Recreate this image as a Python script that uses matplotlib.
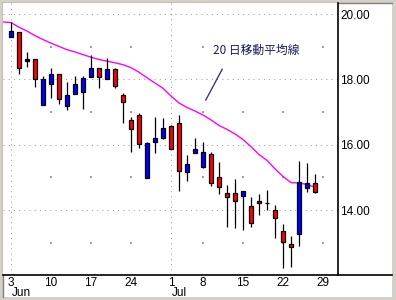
import matplotlib
matplotlib.use("Agg")
import matplotlib.pyplot as plt
import matplotlib.transforms as mtransforms
from matplotlib.lines import Line2D
from matplotlib.patches import Rectangle
import numpy as np
import pandas as pd

# trading days, Jun 3 - Jul 29 2002 (Jul 4 closed); last slot has no candle
dates = pd.bdate_range("2002-06-03", "2002-07-29")
dates = dates[dates != pd.Timestamp("2002-07-04")]

opens = [19.29, 19.44, 18.55, 18.62, 17.21, 17.85, 18.18, 17.19, 17.54, 17.60,
         18.08, 18.34, 18.00, 18.32, 17.52, 16.76, 16.91, 14.99, 16.09, 16.20,
         16.57, 16.65, 15.15, 15.75, 15.33, 15.71, 15.00, 14.51, 14.51, 14.44,
         14.12, 14.28, 14.21, 14.00, 13.36, 12.95, 13.26, 14.66, 14.82]
highs = [19.76, 19.44, 18.83, 18.62, 18.10, 18.36, 18.18, 17.92, 18.10, 18.10,
         18.75, 18.34, 18.66, 18.35, 17.57, 16.86, 16.98, 16.07, 16.86, 16.81,
         16.60, 16.91, 15.68, 16.20, 16.09, 15.77, 15.46, 14.77, 14.94, 14.59,
         14.39, 14.49, 14.61, 14.15, 13.57, 13.20, 15.50, 15.43, 15.10]
lows = [19.29, 18.18, 18.39, 17.77, 17.21, 17.42, 17.24, 17.05, 17.54, 17.10,
        18.08, 17.74, 18.00, 17.74, 16.65, 15.79, 15.91, 14.99, 15.75, 16.17,
        15.86, 14.59, 14.90, 15.74, 15.30, 14.74, 14.48, 13.47, 13.44, 13.39,
        13.49, 13.85, 14.00, 13.15, 12.23, 12.26, 12.90, 14.56, 14.51]
closes = [19.48, 18.34, 18.62, 18.01, 18.00, 18.18, 17.39, 17.51, 17.85, 18.03,
          18.34, 18.08, 18.32, 17.80, 17.32, 16.47, 16.01, 16.04, 16.20, 16.50,
          15.86, 15.20, 15.40, 15.86, 15.77, 14.82, 14.70, 14.39, 14.29, 14.59,
          13.59, 14.21, 14.21, 13.75, 13.01, 12.86, 14.85, 14.82, 14.54]

# 20-day moving average, starting one day before Jun 3
ma20 = [19.76, 19.74, 19.60, 19.48, 19.34, 19.22, 19.11, 19.01, 18.91, 18.84,
        18.76, 18.68, 18.61, 18.56, 18.51, 18.45, 18.36, 18.22, 18.05, 17.89,
        17.73, 17.49, 17.28, 17.14, 17.03, 16.91, 16.76, 16.59, 16.47, 16.33,
        16.16, 15.94, 15.70, 15.52, 15.26, 15.03, 14.84, 14.83, 14.78, 14.70]

price_ticks = [14, 16, 18, 20]
minor_ticks = [13, 15, 17, 19]

W, H = 396, 300
fig = plt.figure(figsize=(W / 100, H / 100), dpi=100, facecolor="#d4d0c8")
fig.patches.append(Rectangle((3 / W, 3 / H), 389 / W, 294 / H, transform=fig.transFigure,
                             facecolor="white", edgecolor="none", zorder=-10))
fig.lines.append(Line2D([2.5 / W, 2.5 / W], [3 / H, 297.5 / H], transform=fig.transFigure,
                        color="#808080", lw=1, zorder=-5))
fig.lines.append(Line2D([2.5 / W, 392 / W], [297.5 / H, 297.5 / H], transform=fig.transFigure,
                        color="#808080", lw=1, zorder=-5))

ax = fig.add_axes([3 / W, 25 / H, 335 / W, 272 / H])
ax.set_facecolor("white")
for side in ["top", "left", "bottom"]:
    ax.spines[side].set_visible(False)
ax.spines["right"].set_linewidth(1.2)

fig.lines.append(Line2D([3 / W, 392 / W], [25 / H, 25 / H], transform=fig.transFigure,
                        color="black", lw=1.2, zorder=5))

x = np.arange(len(closes))
o, h, l, c = map(np.asarray, (opens, highs, lows, closes))

mondays = [i for i, d in enumerate(dates) if d.weekday() == 0]
month_starts = [i for i in range(len(dates)) if i == 0 or dates[i].month != dates[i - 1].month]

grid_kw = dict(color="#a0a0a0", lw=0.75, ls=(0, (1, 4)), zorder=0.5)
for v in price_ticks:
    ax.axhline(v, **grid_kw)
for i in month_starts:
    ax.axvline(i, **grid_kw)
mx, my = np.meshgrid([i for i in mondays if i not in month_starts], minor_ticks)
ax.scatter(mx.ravel(), my.ravel(), s=0.6, marker="s", color="#a0a0a0", lw=0, zorder=0.5)

ax.plot(np.arange(-1, len(ma20) - 1), ma20, color="#ff00ff", lw=1, zorder=1.5)

colors = np.where(c >= o, "#0000ff", "#ff0000")
ax.vlines(x, l, h, color="black", lw=0.9, zorder=2)
ax.bar(x, c - o, bottom=o, width=0.62, color=colors, edgecolor="black", lw=0.9, zorder=3)

ax.set_xlim(-1, 40.875)
ax.set_ylim(12.01, 20.34)

ax.yaxis.tick_right()
ax.set_yticks(price_ticks)
ax.set_yticklabels([f"{v:.2f}" for v in price_ticks])
ax.set_xticks(mondays)
ax.set_xticklabels([str(dates[i].day) for i in mondays])
ax.tick_params(axis="y", length=0, pad=1.5, labelsize=8.5)
ax.tick_params(axis="x", length=0, pad=1.5, labelsize=8.5)
for lbl in ax.get_xticklabels() + ax.get_yticklabels():
    lbl.set_fontfamily("Liberation Sans")

mtrans = mtransforms.blended_transform_factory(ax.transData, fig.transFigure)
for i in month_starts:
    ax.text(i + 0.1, 7 / H, dates[i].strftime("%b"), transform=mtrans, ha="left", va="center",
            fontsize=8.5, fontfamily="Liberation Sans")

ax.text(30.6, 18.9, "20 日移動平均線", ha="center", va="center", fontsize=8.5,
        color="#1c1c64", family=["Noto Sans CJK JP", "DejaVu Sans"])
ax.plot([26.4, 24.35], [18.31, 17.37], color="#3a3a78", lw=1, zorder=4)

fig.savefig("out.png", dpi=100, facecolor=fig.get_facecolor())
